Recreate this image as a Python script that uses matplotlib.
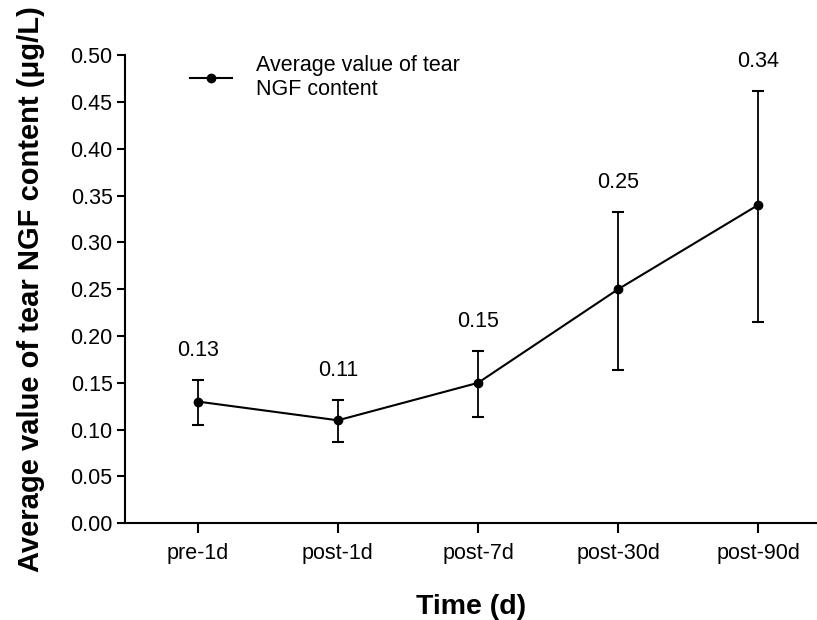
import matplotlib.pyplot as plt
from matplotlib.lines import Line2D

plt.rcParams['font.family'] = ['Liberation Sans', 'DejaVu Sans']

# dados
tempos = ["pre-1d", "post-1d", "post-7d", "post-30d", "post-90d"]
medias = [0.13, 0.11, 0.15, 0.25, 0.34]
erro_sup = [0.153, 0.132, 0.184, 0.333, 0.462]
erro_inf = [0.105, 0.087, 0.113, 0.164, 0.215]
rotulos = ["0.13", "0.11", "0.15", "0.25", "0.34"]

fig = plt.figure(figsize=(8.17, 6.2), dpi=100)
ax = fig.add_axes([0.153, 0.156, 0.847, 0.755])

x = list(range(len(tempos)))
yerr = [[m - b for m, b in zip(medias, erro_inf)],
        [t - m for m, t in zip(medias, erro_sup)]]

ax.errorbar(x, medias, yerr=yerr, color="black", lw=1.5, marker="o",
            markersize=6, capsize=4, capthick=1.5, elinewidth=1.3)

# rotulos acima das barras de erro
for xi, topo, txt in zip(x, erro_sup, rotulos):
    ax.annotate(txt, (xi, topo), xytext=(0, 21), textcoords="offset points",
                ha="center", va="center", fontsize=15.5)

ax.set_xlim(-0.52, 4.42)
ax.set_ylim(0, 0.5)
ax.set_yticks([i * 0.05 for i in range(11)])
ax.set_yticklabels([f"{i * 0.05:.2f}" for i in range(11)])
ax.set_xticks(x)
ax.set_xticklabels(tempos)

ax.spines["top"].set_visible(False)
ax.spines["right"].set_visible(False)
ax.spines["left"].set_linewidth(1.5)
ax.spines["bottom"].set_linewidth(1.5)
ax.tick_params(axis="both", labelsize=15.5, width=1.5, length=5.5)
ax.tick_params(axis="x", pad=7, length=7)

ax.set_xlabel("Time (d)", fontsize=20.5, fontweight="bold", labelpad=22)
ax.set_ylabel("Average value of tear NGF content (μg/L)", fontsize=21,
              fontweight="bold", labelpad=18)

# legenda so com linha e marcador (sem barra de erro)
alca = Line2D([], [], color="black", lw=1.5, marker="o", markersize=6)
ax.legend([alca], ["Average value of tear\nNGF content"], loc="upper left",
          bbox_to_anchor=(0.2326, 0.912), bbox_transform=fig.transFigure,
          frameon=False, fontsize=15.5, handlelength=1.95,
          handletextpad=1.1, borderpad=0, borderaxespad=0)

fig.savefig("out.png", dpi=100)
